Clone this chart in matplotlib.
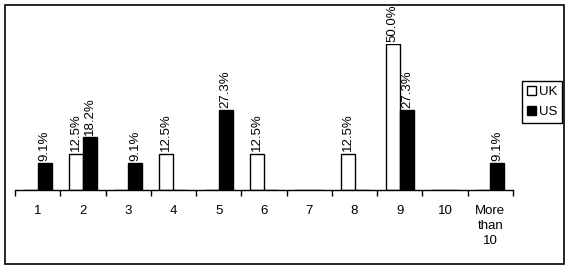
import matplotlib
matplotlib.use("Agg")
import matplotlib.pyplot as plt
from matplotlib.patches import Patch, Rectangle
import numpy as np

categories = ["1", "2", "3", "4", "5", "6", "7", "8", "9", "10", "More\nthan\n10"]
uk_values = [0, 12.5, 0, 12.5, 0, 12.5, 0, 12.5, 50.0, 0, 0]
us_values = [9.1, 18.2, 9.1, 0, 27.3, 0, 0, 0, 27.3, 0, 9.1]

plt.rcParams['font.family'] = ['Liberation Sans', 'DejaVu Sans']
plt.rcParams['font.size'] = 9.5

fig = plt.figure(figsize=(5.73, 2.71), dpi=100)
ax = fig.add_axes([15/573, 1 - 190/271, (513-15)/573, (190-44)/271])

x = np.arange(len(categories))
w = 0.31
ax.bar(x - w/2, uk_values, w, facecolor="white", edgecolor="black", linewidth=1)
ax.bar(x + w/2, us_values, w, facecolor="black", edgecolor="black", linewidth=1)

for xi, v in zip(x, uk_values):
    if v > 0:
        ax.annotate(f"{v:.1f}%", (xi - w/2, v), xytext=(0, 1.5), textcoords="offset points",
                    rotation=90, ha="center", va="bottom", annotation_clip=False)
for xi, v in zip(x, us_values):
    if v > 0:
        ax.annotate(f"{v:.1f}%", (xi + w/2, v), xytext=(0, 1.5), textcoords="offset points",
                    rotation=90, ha="center", va="bottom", annotation_clip=False)

ax.set_xlim(-0.5, len(categories) - 0.5)
ax.set_ylim(0, 50)
for s in ["top", "right", "left"]:
    ax.spines[s].set_visible(False)
ax.spines["bottom"].set_linewidth(1)
ax.set_yticks([])
ax.set_xticks(x)
ax.set_xticklabels(categories, linespacing=1.3)
ax.set_xticks(np.arange(-0.5, len(categories)), minor=True)
ax.tick_params(axis="x", which="major", length=0, pad=11)
ax.tick_params(axis="x", which="minor", length=4, width=1, direction="out")

handles = [Patch(facecolor="white", edgecolor="black", label="UK"),
           Patch(facecolor="black", edgecolor="black", label="US")]
leg = fig.legend(handles=handles, loc="center", bbox_to_anchor=(542/573, 1 - 102/271),
                 frameon=True, fancybox=False, framealpha=1, edgecolor="black",
                 handlelength=0.7, handleheight=0.7, handletextpad=0.2,
                 borderpad=0.35, labelspacing=0.6, borderaxespad=0)
leg.get_frame().set_linewidth(1)

fig.patches.append(Rectangle((5/573, 1 - 264/271), (564-5)/573, (264-5)/271,
                             transform=fig.transFigure, fill=False, edgecolor="black", linewidth=1.2))

fig.savefig("out.png", dpi=100)
